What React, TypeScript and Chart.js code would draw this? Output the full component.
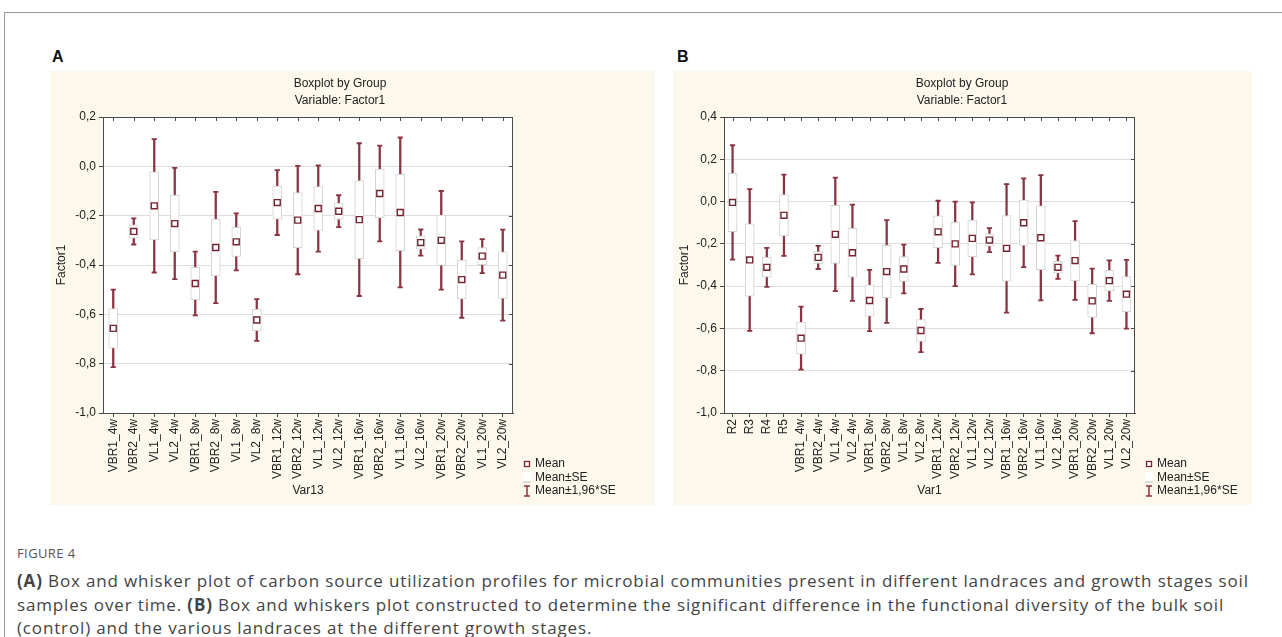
import React, { useEffect, useRef } from "react";
import { Chart, registerables } from "chart.js";

Chart.register(...registerables);

// ---------- Data ----------
const categoriesA = [
  "VBR1_4w", "VBR2_4w", "VL1_4w", "VL2_4w",
  "VBR1_8w", "VBR2_8w", "VL1_8w", "VL2_8w",
  "VBR1_12w", "VBR2_12w", "VL1_12w", "VL2_12w",
  "VBR1_16w", "VBR2_16w", "VL1_16w", "VL2_16w",
  "VBR1_20w", "VBR2_20w", "VL1_20w", "VL2_20w",
];
const meansA = [
  -0.657, -0.264, -0.16, -0.232,
  -0.475, -0.329, -0.306, -0.623,
  -0.147, -0.218, -0.171, -0.182,
  -0.216, -0.11, -0.187, -0.309,
  -0.3, -0.459, -0.364, -0.441,
];
const seA = [
  0.08, 0.027, 0.138, 0.115,
  0.066, 0.115, 0.059, 0.043,
  0.067, 0.112, 0.089, 0.033,
  0.158, 0.099, 0.155, 0.027,
  0.102, 0.079, 0.035, 0.094,
];

const categoriesB = [
  "R2", "R3", "R4", "R5",
  "VBR1_4w", "VBR2_4w", "VL1_4w", "VL2_4w",
  "VBR1_8w", "VBR2_8w", "VL1_8w", "VL2_8w",
  "VBR1_12w", "VBR2_12w", "VL1_12w", "VL2_12w",
  "VBR1_16w", "VBR2_16w", "VL1_16w", "VL2_16w",
  "VBR1_20w", "VBR2_20w", "VL1_20w", "VL2_20w",
];
const meansB = [
  -0.004, -0.276, -0.311, -0.065,
  -0.646, -0.264, -0.155, -0.242,
  -0.468, -0.331, -0.319, -0.61,
  -0.143, -0.2, -0.174, -0.182,
  -0.221, -0.1, -0.171, -0.311,
  -0.279, -0.47, -0.374, -0.438,
];
const seB = [
  0.138, 0.171, 0.047, 0.098,
  0.076, 0.028, 0.137, 0.116,
  0.074, 0.124, 0.059, 0.052,
  0.075, 0.102, 0.087, 0.029,
  0.155, 0.107, 0.151, 0.028,
  0.095, 0.078, 0.049, 0.083,
];

const yTicksA = { min: -1.0, max: 0.2, step: 0.2 };
const yTicksB = { min: -1.0, max: 0.4, step: 0.2 };

const chartTitle = ["Boxplot by Group", "Variable: Factor1"];
const legendLabels = ["Mean", "Mean\u00b1SE", "Mean\u00b11,96*SE"];

// ---------- Styles ----------
const FONT = "'Liberation Sans', Arial, sans-serif";
const MAROON = "#8a3341";
const MARKER = "#742431";
const BOXLINE = "#d2d2d2";
const FRAME = "#4a4a4a";
const GRID = "#dedede";
const TEXT = "#222";
const PANEL_BG = "#fcf8ec";

const fmt = (v: number) => {
  if (Math.abs(v) < 1e-9) return "0,0";
  return v.toFixed(1).replace(".", ",");
};

type BoxProps = {
  cats: string[];
  means: number[];
  se: number[];
  yr: { min: number; max: number; step: number };
  xTitle: string;
  width: number;
  height: number;
  plotLeft: number;
  plotRight: number;
  plotTop: number;
  plotBottom: number;
  titleCenter: number;
};

function BoxChart(p: BoxProps) {
  const ref = useRef<HTMLCanvasElement | null>(null);
  useEffect(() => {
    const canvas = ref.current;
    if (!canvas) return;
    const boxData = p.means.map((m, i) => [m - p.se[i], m + p.se[i]]);
    const whiskData = p.means.map((m, i) => [m - 1.96 * p.se[i], m + 1.96 * p.se[i]]);
    const capTop = p.means.map((m, i) => m + 1.96 * p.se[i]);
    const capBot = p.means.map((m, i) => m - 1.96 * p.se[i]);

    const padL = 4;
    const padB = 4;
    const padR = p.width - p.plotRight;

    const bgPlugin = {
      id: "plotBg",
      beforeDraw(chart: any) {
        const { ctx, chartArea: a } = chart;
        ctx.save();
        ctx.fillStyle = "#ffffff";
        ctx.fillRect(a.left, a.top, a.right - a.left, a.bottom - a.top);
        ctx.restore();
      },
    };

    const framePlugin = {
      id: "frameDecor",
      afterDraw(chart: any) {
        const { ctx, chartArea: a, scales } = chart;
        const xs = scales.x;
        const ys = scales.y;
        ctx.save();
        // frame
        ctx.strokeStyle = FRAME;
        ctx.lineWidth = 1;
        ctx.beginPath();
        ctx.moveTo(a.left, a.top + 0.5);
        ctx.lineTo(a.right, a.top + 0.5);
        ctx.moveTo(a.right - 0.5, a.top);
        ctx.lineTo(a.right - 0.5, a.bottom);
        ctx.stroke();
        // top inner ticks
        ctx.beginPath();
        for (let i = 0; i < p.cats.length; i++) {
          const x = Math.round(xs.getPixelForValue(i)) + 0.5;
          ctx.moveTo(x, a.top);
          ctx.lineTo(x, a.top + 4);
        }
        // right inner ticks
        ys.ticks.forEach((t: any) => {
          const y = Math.round(ys.getPixelForValue(t.value)) + 0.5;
          ctx.moveTo(a.right, y);
          ctx.lineTo(a.right - 4, y);
        });
        ctx.stroke();

        // title
        ctx.fillStyle = TEXT;
        ctx.font = `12px ${FONT}`;
        ctx.textAlign = "center";
        ctx.textBaseline = "middle";
        ctx.fillText(chartTitle[0], p.titleCenter, a.top - 33);
        ctx.fillText(chartTitle[1], p.titleCenter, a.top - 16);

        // legend
        const lx = a.right + 14;
        const ly0 = a.bottom + 51;
        const dy = 13.5;
        ctx.textAlign = "left";
        // Mean marker
        ctx.fillStyle = "#fff";
        ctx.strokeStyle = MARKER;
        ctx.lineWidth = 1.3;
        ctx.fillRect(lx - 2.5, ly0 - 2.5, 5, 5);
        ctx.strokeRect(lx - 2.5, ly0 - 2.5, 5, 5);
        // Mean±SE symbol
        const y1 = ly0 + dy;
        ctx.fillStyle = "#ffffff";
        ctx.fillRect(lx - 4, y1 - 5, 8, 9);
        ctx.strokeStyle = "#b9b9b9";
        ctx.lineWidth = 1;
        ctx.beginPath();
        ctx.moveTo(lx - 4, y1 + 4.5);
        ctx.lineTo(lx + 4, y1 + 4.5);
        ctx.stroke();
        // I-beam
        const y2 = ly0 + 2 * dy;
        ctx.strokeStyle = MAROON;
        ctx.lineWidth = 1.5;
        ctx.beginPath();
        ctx.moveTo(lx, y2 - 5);
        ctx.lineTo(lx, y2 + 5);
        ctx.moveTo(lx - 3, y2 - 5);
        ctx.lineTo(lx + 3, y2 - 5);
        ctx.moveTo(lx - 3, y2 + 5);
        ctx.lineTo(lx + 3, y2 + 5);
        ctx.stroke();
        ctx.fillStyle = TEXT;
        legendLabels.forEach((t, i) => ctx.fillText(t, lx + 8, ly0 + i * dy));
        ctx.restore();
      },
    };

    const chart = new Chart(canvas, {
      type: "bar",
      data: {
        labels: p.cats,
        datasets: [
          {
            type: "line",
            label: "Mean",
            data: p.means,
            showLine: false,
            pointStyle: "rect",
            pointRadius: 4.2,
            pointBorderWidth: 1.4,
            pointBorderColor: MARKER,
            pointBackgroundColor: "#ffffff",
            order: 0,
          } as any,
          {
            type: "line",
            label: "capTop",
            data: capTop,
            showLine: false,
            pointStyle: "line",
            pointRadius: 2.6,
            pointBorderWidth: 1.8,
            pointBorderColor: MAROON,
            order: 1,
          } as any,
          {
            type: "line",
            label: "capBot",
            data: capBot,
            showLine: false,
            pointStyle: "line",
            pointRadius: 2.6,
            pointBorderWidth: 1.8,
            pointBorderColor: MAROON,
            order: 1,
          } as any,
          {
            type: "bar",
            label: "Mean±SE",
            data: boxData,
            backgroundColor: "#ffffff",
            borderColor: BOXLINE,
            borderWidth: 1,
            borderSkipped: false,
            barThickness: 9,
            grouped: false,
            order: 2,
          } as any,
          {
            type: "bar",
            label: "Mean±1.96SE",
            data: whiskData,
            backgroundColor: MAROON,
            borderWidth: 0,
            barThickness: 1.6,
            grouped: false,
            order: 3,
          } as any,
        ],
      },
      options: {
        responsive: false,
        maintainAspectRatio: false,
        devicePixelRatio: 1,
        animation: false,
        layout: { padding: { left: padL, right: padR, top: p.plotTop, bottom: padB } },
        plugins: {
          legend: { display: false },
          tooltip: { enabled: false },
          title: { display: false },
        },
        scales: {
          x: {
            type: "category",
            offset: true,
            grid: {
              offset: false,
              drawOnChartArea: false,
              drawTicks: true,
              tickLength: 4,
              tickColor: FRAME,
            },
            border: { display: true, color: FRAME, width: 1 },
            ticks: {
              autoSkip: false,
              maxRotation: 90,
              minRotation: 90,
              padding: 2,
              color: TEXT,
              font: { family: FONT, size: 12 },
            },
            title: {
              display: true,
              text: p.xTitle,
              color: TEXT,
              font: { family: FONT, size: 12 },
              padding: { top: 0, bottom: 3 },
            },
            afterFit: (s: any) => {
              s.height = p.height - padB - p.plotBottom;
            },
          },
          y: {
            type: "linear",
            min: p.yr.min,
            max: p.yr.max,
            grid: {
              color: GRID,
              lineWidth: 1,
              drawTicks: true,
              tickLength: 4,
              tickColor: FRAME,
            },
            border: { display: true, color: FRAME, width: 1 },
            ticks: {
              stepSize: p.yr.step,
              padding: 3,
              color: TEXT,
              font: { family: FONT, size: 12 },
              callback: (v: any) => fmt(Number(v)),
            },
            title: {
              display: true,
              text: "Factor1",
              color: TEXT,
              font: { family: FONT, size: 12 },
              padding: { top: 0, bottom: 0 },
            },
            afterFit: (s: any) => {
              s.width = p.plotLeft - padL;
            },
          },
        },
      } as any,
      plugins: [bgPlugin, framePlugin],
    });
    return () => chart.destroy();
  }, []);
  return (
    <canvas
      ref={ref}
      width={p.width}
      height={p.height}
      style={{ width: p.width, height: p.height, display: "block" }}
    />
  );
}

export default function App() {
  const panelTop = 71;
  const panelH = 434;
  return (
    <div
      style={{
        position: "absolute",
        left: 0,
        top: 0,
        width: 1282,
        height: 637,
        background: "#fff",
        overflow: "hidden",
        fontFamily: "'Open Sans', 'Noto Sans', sans-serif",
      }}
    >
      <div
        style={{
          position: "absolute",
          left: 4,
          top: 12,
          width: 1290,
          height: 700,
          borderTop: "1px solid #9a9a9a",
          borderLeft: "1px solid #9a9a9a",
        }}
      />
      <div style={{ position: "absolute", left: 52, top: 48, fontWeight: 700, fontSize: 16, fontFamily: "'Liberation Sans', Arial, sans-serif", color: "#111" }}>A</div>
      <div style={{ position: "absolute", left: 677, top: 48, fontWeight: 700, fontSize: 16, fontFamily: "'Liberation Sans', Arial, sans-serif", color: "#111" }}>B</div>
      <div style={{ position: "absolute", left: 50, top: panelTop, width: 605, height: panelH, background: PANEL_BG }}>
        <BoxChart
          cats={categoriesA}
          means={meansA}
          se={seA}
          yr={yTicksA}
          xTitle="Var13"
          width={605}
          height={panelH}
          plotLeft={53}
          plotRight={463}
          plotTop={46}
          plotBottom={342}
          titleCenter={290}
        />
      </div>
      <div style={{ position: "absolute", left: 673, top: panelTop, width: 579, height: panelH, background: PANEL_BG }}>
        <BoxChart
          cats={categoriesB}
          means={meansB}
          se={seB}
          yr={yTicksB}
          xTitle="Var1"
          width={579}
          height={panelH}
          plotLeft={51}
          plotRight={462}
          plotTop={46}
          plotBottom={342}
          titleCenter={289}
        />
      </div>
      <div style={{ position: "absolute", left: 17, top: 544, fontSize: 13, color: "#555", letterSpacing: 0.4 }}>FIGURE 4</div>
      <div
        style={{
          position: "absolute",
          left: 17,
          top: 569,
          fontSize: 17,
          lineHeight: "23.5px",
          color: "#444",
          letterSpacing: 0.85,
          whiteSpace: "nowrap",
        }}
      >
        <b>(A)</b> Box and whisker plot of carbon source utilization profiles for microbial communities present in different landraces and growth stages soil
        <br />
        samples over time. <b>(B)</b> Box and whiskers plot constructed to determine the significant difference in the functional diversity of the bulk soil
        <br />
        (control) and the various landraces at the different growth stages.
      </div>
    </div>
  );
}
